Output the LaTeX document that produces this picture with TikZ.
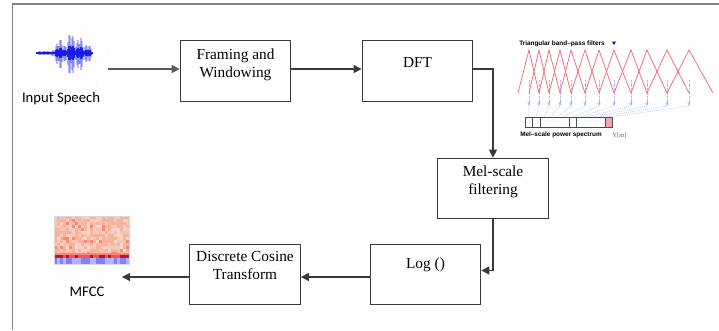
\documentclass[tikz,border=0pt]{standalone}
\usepackage{fontspec}
\setmainfont{Liberation Serif}
\newfontfamily\calfont{Carlito}
\newfontfamily\helvfont{Liberation Sans}
\usetikzlibrary{arrows.meta}
\definecolor{frameg}{HTML}{808080}
\definecolor{boxline}{HTML}{3A3A3A}
\definecolor{wave}{HTML}{1A1AE6}
\definecolor{filt}{HTML}{F06878}
\definecolor{fblue}{HTML}{6F8FE8}
\definecolor{salmon}{HTML}{F4B49E}
\begin{document}
\begin{tikzpicture}[x=0.75pt,y=-0.75pt,
  box/.style={draw=boxline, line width=0.8pt, minimum width=83pt, minimum height=45.5pt, inner sep=0pt},
  boxtxt/.style={font=\fontsize{11.5}{13.5}\selectfont, align=center, inner sep=0pt},
  sanslbl/.style={font=\calfont\fontsize{11}{13}\selectfont, inner sep=0pt},
  conn/.style={draw=boxline, line width=0.8pt, -{Triangle[length=6pt,width=6pt]}},
  tinylbl/.style={font=\helvfont\bfseries\fontsize{4.8}{5.5}\selectfont, inner sep=0pt},
  redline/.style={draw=filt, line width=0.55pt},
  bluearrow/.style={draw=fblue!60, line width=0.7pt, dash pattern=on 1.5pt off 0.5pt, -{Triangle[length=2.6pt,width=2.4pt,fill=fblue]}},
  bluedot/.style={draw=fblue!65, line width=0.35pt, dash pattern=on 0.8pt off 0.8pt}]
\useasboundingbox (0,0) rectangle (719,330);

% outer frame
\draw[frameg, line width=1.1pt] (12.5,330) -- (12.5,4) -- (719,4);

% waveform
\draw[wave, line width=1.2pt] (36,53) -- (93,53);
\foreach \x in {37,38,...,92}{
  \pgfmathsetmacro{\amp}{2+12*exp(-((\x-60)^2)/20)+20*exp(-((\x-71)^2)/15)+15*exp(-((\x-80)^2)/12)+8*exp(-((\x-88)^2)/8)}
  \pgfmathsetmacro{\h}{\amp*(0.3+0.7*abs(sin(\x*137)))}
  \draw[wave, opacity=0.3, line width=0.8pt] (\x,53-\h) -- (\x,53+\h*1.15);
  \draw[wave, opacity=0.9, line width=0.8pt] (\x,53-\h*0.4) -- (\x,53+\h*0.4);
}
\fill[wave!40] (107,53) circle (0.5);
\fill[black!20] (40,82.5) circle (0.5);
\fill[black!20] (97,82.5) circle (0.5);
\node[sanslbl] (inputlbl) at (61,99) {Input Speech};
\coordinate (speechout) at (108,69);

% process boxes
\node[box] (framing) at (235.5,71) {};
\node[boxtxt] (framingT) at (235.5,64.5) {Framing and\\Windowing};
\node[box] (dft) at (417.5,71) {};
\node[boxtxt] (dftT) at (417.5,62) {DFT};
\node[box] (mel) at (493,188.5) {};
\node[boxtxt] (melT) at (493,182) {Mel-scale\\filtering};
\node[box] (log) at (425.5,274.5) {};
\node[boxtxt] (logT) at (425.5,265) {Log ()};
\node[box] (dct) at (245,274.5) {};
\node[boxtxt] (dctT) at (245,265.5) {Discrete Cosine\\Transform};

% connectors
\draw[conn, draw=black!65, line width=1.2pt] (speechout) -- (speechout -| framing.west);
\draw[conn] (framing.east |- 0,69) -- (dft.west |- 0,69);
\draw[conn] (dft.east |- 0,69) -| (mel.north);
\coordinate (login) at ([yshift=3pt]log.east);
\draw[conn] (mel.south) |- (login);
\coordinate (mfccin) at (122,277);
\draw[conn] (log.west |- 0,277) -- (dct.east |- 0,277);
\draw[conn] (dct.west |- 0,277) -- (mfccin);

% MFCC image
\pgfmathsetseed{11}
\fill[salmon] (54,216) rectangle (129,264);
\foreach \r in {0,...,12}{
  \foreach \c in {0,...,24}{
    \pgfmathsetmacro{\v}{rnd}
    \ifdim\v pt>0.5pt
      \pgfmathsetmacro{\w}{15+35*rnd}
      \fill[white, opacity=\w/100] (54+\c*3,216+\r*3) rectangle (57+\c*3,219+\r*3);
    \else
      \ifdim\v pt<0.06pt
        \fill[red!25!salmon] (54+\c*3,216+\r*3) rectangle (57+\c*3,219+\r*3);
      \fi
    \fi
  }
}
\foreach \c in {0,...,24}{
  \pgfmathsetmacro{\v}{rnd}
  \ifdim\v pt>0.5pt
    \fill[red!70!black!90] (54+\c*3,255) rectangle (57+\c*3,258);
  \else
    \fill[red!55!salmon] (54+\c*3,255) rectangle (57+\c*3,258);
  \fi
  \fill[red!25!salmon] (54+\c*3,252.5) rectangle (57+\c*3,255);
  \pgfmathsetmacro{\u}{rnd}
  \ifdim\u pt>0.5pt
    \fill[blue!50!white] (54+\c*3,258) rectangle (57+\c*3,264);
  \else
    \fill[blue!30!white] (54+\c*3,258) rectangle (57+\c*3,264);
  \fi
}
\draw[black!15, line width=0.3pt] (54,216) rectangle (129,264);
\node[sanslbl] (mfcclbl) at (87,292) {MFCC};

% filter bank figure
\node[tinylbl, anchor=west] (tbtitle) at (519,44) {Triangular band–pass filters};
\fill[blue!80!black] (612,41.5) -- (616,41.5) -- (614,45) -- cycle;
\def\pk{{518,529,539,549,560,571,585,599,614,631,647,667,689,713}}
\foreach \i in {1,...,12}{
  \pgfmathsetmacro{\a}{\pk[\i-1]}
  \pgfmathsetmacro{\b}{\pk[\i]}
  \pgfmathsetmacro{\c}{\pk[\i+1]}
  \draw[redline] (\a,93) -- (\b,50) -- (\c,93);
  \draw[bluearrow] (\b,80) -- (\b,106);
}
% dotted fan to spectrum cells
\def\tg{{0,528.5,536,544,550,557,563,572.5,580,586,593,599,608.5}}
\foreach \i in {1,...,12}{
  \pgfmathsetmacro{\b}{\pk[\i]}
  \pgfmathsetmacro{\t}{\tg[\i]}
  \draw[bluedot] (\b,106) -- (\t,117);
}
% spectrum box
\fill[filt!60] (605,117) rectangle (612,127);
\draw[black!70, line width=0.4pt] (525,117) rectangle (612,127);
\foreach \xx in {532,540,569,576,605}{
  \draw[black!70, line width=0.4pt] (\xx,117) -- (\xx,127);
}
\node[font=\helvfont\fontsize{3}{3}\selectfont, text=black!50, inner sep=0pt] (dots1) at (554.5,122) {$\cdots$};
\node[font=\helvfont\fontsize{3}{3}\selectfont, text=black!50, inner sep=0pt] (dots2) at (590.5,122) {$\cdots$};
\node[tinylbl, anchor=west] (spectlbl) at (520,135) {Mel–scale power spectrum};
\node[font=\fontsize{5}{6}\selectfont, text=black!60, inner sep=0pt, anchor=west] (ymlbl) at (612,135.5) {Y[m]};
\end{tikzpicture}
\end{document}
